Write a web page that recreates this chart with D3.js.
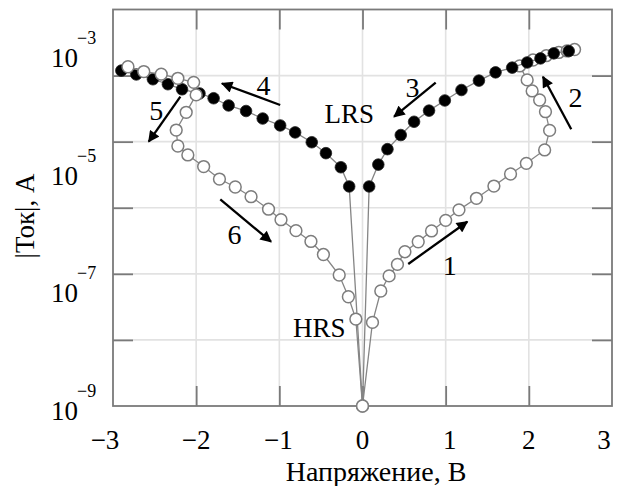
<!DOCTYPE html>
<html><head><meta charset="utf-8">
<script src="https://cdn.jsdelivr.net/npm/d3@7"></script>
<style>
body{margin:0;background:#fff}
svg{display:block}
text{font-family:"Liberation Serif","Times New Roman",serif;fill:#000}
</style>
</head><body>
<svg id="c" width="617" height="486"></svg>
<script>
// ---------- data ----------
const xTickValues = [-3, -2, -1, 0, 1, 2, 3];
const xTickLabels = ["\u22123", "\u22122", "\u22121", "0", "1", "2", "3"];
const yTickValues = [1e-3, 1e-5, 1e-7, 1e-9];
const yTickExps   = ["\u22123", "\u22125", "\u22127", "\u22129"];
const yGridValues = [1e-8, 1e-7, 1e-6, 1e-5, 1e-4];
const xGridValues = [-2, -1, 0, 1, 2];

// sweeps 1-2 : HRS, 0 -> +2.6 V (open circles)
const sweep12V = [0, 0.12, 0.22, 0.32, 0.42, 0.51, 0.67, 0.83, 1.00, 1.16, 1.37, 1.58, 1.78, 1.97, 2.19, 2.25, 2.20, 2.13, 2.04, 1.98, 1.89, 2.05, 2.21, 2.36, 2.46, 2.55];
const sweep12I = [1e-9, 1.84e-8, 5.5e-8, 9.3e-8, 1.39e-7, 2.16e-7, 3.06e-7, 4.46e-7, 6.45e-7, 9.3e-7, 1.39e-6, 2.13e-6, 3.24e-6, 4.7e-6, 7.5e-6, 1.48e-5, 2.84e-5, 4.27e-5, 5.85e-5, 8.6e-5, 1.40e-4, 1.72e-4, 2.0e-4, 2.24e-4, 2.36e-4, 2.48e-4];
// sweep 3 : LRS, +2.5 V -> 0 (filled)
const sweep3V = [2.48, 2.30, 2.14, 1.98, 1.80, 1.60, 1.40, 1.19, 0.99, 0.80, 0.62, 0.46, 0.30, 0.19, 0.08];
const sweep3I = [2.35e-4, 2.17e-4, 1.82e-4, 1.58e-4, 1.32e-4, 1.12e-4, 8.4e-5, 6.05e-5, 4.2e-5, 2.95e-5, 2.0e-5, 1.26e-5, 7.7e-6, 4.5e-6, 2.1e-6];
// sweep 4 : LRS, 0 -> -2.9 V (filled)
const sweep4V = [-0.16, -0.26, -0.44, -0.61, -0.81, -0.99, -1.20, -1.40, -1.61, -1.79, -1.96, -2.17, -2.34, -2.52, -2.72, -2.90];
const sweep4I = [2.1e-6, 4.1e-6, 6.7e-6, 9.8e-6, 1.38e-5, 1.76e-5, 2.24e-5, 2.91e-5, 3.53e-5, 4.54e-5, 5.37e-5, 6.2e-5, 7.4e-5, 8.8e-5, 1.04e-4, 1.19e-4];
// sweeps 5-6 : reset, -2.8 V -> 0 (open)
const sweep56V = [-2.82, -2.63, -2.42, -2.22, -2.03, -2.00, -2.12, -2.24, -2.22, -2.10, -1.91, -1.72, -1.53, -1.34, -1.13, -0.98, -0.80, -0.62, -0.47, -0.28, -0.17, -0.08, 0];
const sweep56I = [1.36e-4, 1.15e-4, 1.05e-4, 9.1e-5, 7.9e-5, 5.1e-5, 2.78e-5, 1.5e-5, 8.6e-6, 6.3e-6, 4.2e-6, 2.72e-6, 2.06e-6, 1.47e-6, 9.5e-7, 6.6e-7, 4.5e-7, 3.09e-7, 1.96e-7, 9.6e-8, 4.5e-8, 2.07e-8, 1e-9];

// arrows (tail V, tail I, head V, head I) and their numbers
const arrowNames = ["1", "2", "3", "4", "5", "6"];
const arrowTailV = [0.55, 2.51, 0.88, -0.99, -2.19, -1.71];
const arrowTailI = [1.41e-7, 1.54e-5, 7.8e-5, 3.59e-5, 4.8e-5, 1.34e-6];
const arrowHeadV = [1.26, 2.17, 0.38, -1.69, -2.57, -1.10];
const arrowHeadI = [6.15e-7, 9.6e-5, 2.39e-5, 7.6e-5, 1.0e-5, 3.06e-7];
const arrowLabelV = [1.05, 2.56, 0.60, -1.19, -2.48, -1.54];
const arrowLabelI = [9.6e-8, 3.39e-5, 4.7e-5, 5.08e-5, 2.13e-5, 2.83e-7];
const stateNames = ["LRS", "HRS"];
const stateV = [-0.16, -0.52];
const stateI = [1.9e-5, 1.12e-8];

const xTitle = "Напряжение, В";
const yTitle = "|Ток|, А";

// ---------- chart ----------
const svg = d3.select("#c");
const x = d3.scaleLinear().domain([-3, 3]).range([113, 612]);
const y = d3.scaleLog().domain([1e-9, 1e-3]).range([406, 9.5]);
// the original figure places its decade labels on a slightly compressed scale
const yLab = d3.scaleLog().domain([1e-9, 1e-3]).range([420, 67]);

const FRAME = "#7a7a7a", GRID = "#e2e2e2", LINE = "#858585";

// grid
svg.append("g").selectAll("line.gx").data(xGridValues).join("line")
  .attr("x1", d => x(d)).attr("x2", d => x(d)).attr("y1", y(1e-9)).attr("y2", y(1e-3))
  .attr("stroke", GRID).attr("stroke-width", 1.6);
svg.append("g").selectAll("line.gy").data(yGridValues).join("line")
  .attr("y1", d => y(d)).attr("y2", d => y(d)).attr("x1", x(-3)).attr("x2", x(3))
  .attr("stroke", GRID).attr("stroke-width", 1.6);

// axes with inward ticks
const tl = 20;
const axB = d3.axisBottom(x).tickValues(xGridValues).tickSize(-tl).tickFormat("");
const axT = d3.axisTop(x).tickValues(xGridValues).tickSize(-tl).tickFormat("");
const axL = d3.axisLeft(y).tickValues(yGridValues).tickSize(-tl).tickFormat("");
const axR = d3.axisRight(y).tickValues(yGridValues).tickSize(-tl).tickFormat("");
function styleAx(g){ g.selectAll("path").remove(); g.selectAll("line").attr("stroke", FRAME).attr("stroke-width", 1.8); }
svg.append("g").attr("transform", `translate(0,${y(1e-9)})`).call(axB).call(styleAx);
svg.append("g").attr("transform", `translate(0,${y(1e-3)})`).call(axT).call(styleAx);
svg.append("g").attr("transform", `translate(${x(-3)},0)`).call(axL).call(styleAx);
svg.append("g").attr("transform", `translate(${x(3)},0)`).call(axR).call(styleAx);
svg.append("rect").attr("x", x(-3)).attr("y", y(1e-3))
  .attr("width", x(3) - x(-3)).attr("height", y(1e-9) - y(1e-3))
  .attr("fill", "none").attr("stroke", FRAME).attr("stroke-width", 1.8);

// tick labels
const xShift = [-8, 0, -1, 0, 4, 0, -8];
svg.append("g").selectAll("text").data(xTickValues).join("text")
  .attr("x", (d, i) => x(d) + xShift[i]).attr("y", 449)
  .attr("text-anchor", "middle").attr("font-size", 27)
  .text((d, i) => xTickLabels[i]);
const yl = svg.append("g").selectAll("g").data(yTickValues).join("g");
yl.append("text").attr("x", 51).attr("y", d => yLab(d)).attr("font-size", 27).text("10");
yl.append("text").attr("x", 77).attr("y", (d) => yLab(d) - 23).attr("font-size", 18)
  .text((d, i) => yTickExps[i]);

// axis titles
svg.append("text").attr("x", 376).attr("y", 481).attr("text-anchor", "middle")
  .attr("font-size", 28).text(xTitle);
svg.append("text").attr("transform", "translate(34,216) rotate(-90)")
  .attr("text-anchor", "middle").attr("font-size", 27).text(yTitle);

// data
const toPts = (V, I) => V.map((v, i) => [v, I[i]]);
const s12 = toPts(sweep12V, sweep12I);
const s3 = toPts(sweep3V, sweep3I);
const s4 = toPts(sweep4V, sweep4I);
const s56 = toPts(sweep56V, sweep56I);
const origin = s12[0];
const line = d3.line().x(d => x(d[0])).y(d => y(d[1]));

function drawSweep(linePts, markPts, filled){
  svg.append("path").attr("d", line(linePts)).attr("fill", "none")
    .attr("stroke", LINE).attr("stroke-width", 1.3);
  svg.append("g").selectAll("circle").data(markPts).join("circle")
    .attr("cx", d => x(d[0])).attr("cy", d => y(d[1]))
    .attr("r", filled ? 5.8 : 5.9)
    .attr("fill", filled ? "#000" : "#fff")
    .attr("stroke", filled ? "#222" : "#7d7d7d")
    .attr("stroke-width", filled ? 0.8 : 1.5);
}
drawSweep(s12, s12, false);
drawSweep(s3.concat([origin]), s3, true);
drawSweep([origin].concat(s4), s4, true);
drawSweep(s56, s56, false);

// arrows
const defs = svg.append("defs");
defs.append("marker").attr("id", "ah").attr("viewBox", "0 0 10 10")
  .attr("refX", 9).attr("refY", 5).attr("markerWidth", 5.5).attr("markerHeight", 5)
  .attr("markerUnits", "strokeWidth").attr("orient", "auto")
  .append("path").attr("d", "M0,0 L10,5 L0,10 Z").attr("fill", "#000");
svg.append("g").selectAll("line").data(arrowNames).join("line")
  .attr("x1", (d, i) => x(arrowTailV[i])).attr("y1", (d, i) => y(arrowTailI[i]))
  .attr("x2", (d, i) => x(arrowHeadV[i])).attr("y2", (d, i) => y(arrowHeadI[i]))
  .attr("stroke", "#000").attr("stroke-width", 2.3).attr("marker-end", "url(#ah)");
svg.append("g").selectAll("text").data(arrowNames).join("text")
  .attr("x", (d, i) => x(arrowLabelV[i])).attr("y", (d, i) => y(arrowLabelI[i]))
  .attr("text-anchor", "middle").attr("font-size", 28).text(d => d);
svg.append("g").selectAll("text").data(stateNames).join("text")
  .attr("x", (d, i) => x(stateV[i])).attr("y", (d, i) => y(stateI[i]))
  .attr("text-anchor", "middle").attr("font-size", 27).text(d => d);
</script>
</body></html>
